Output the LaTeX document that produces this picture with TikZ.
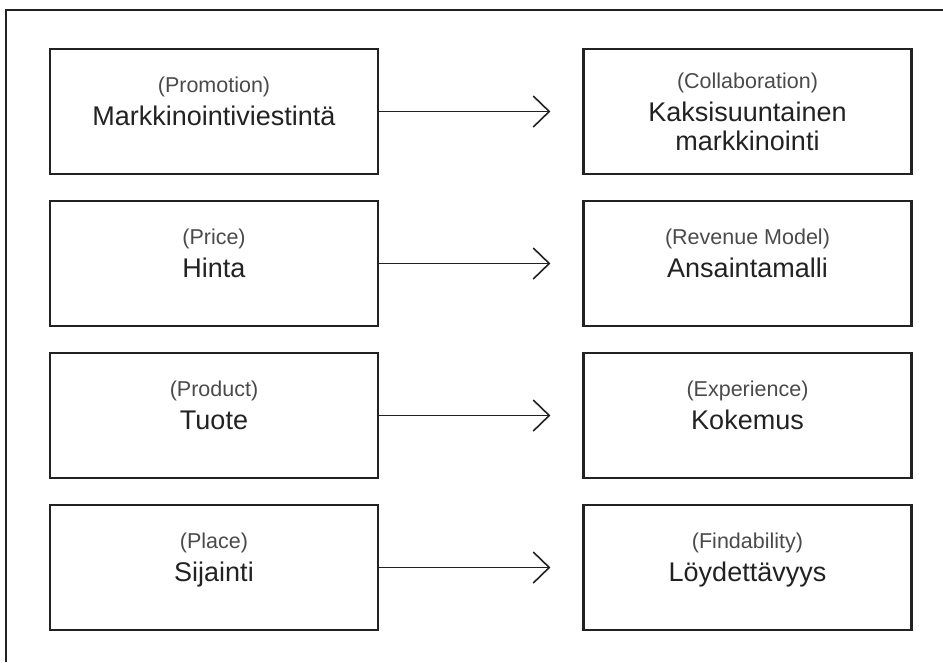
\documentclass[tikz,border=0pt]{standalone}
\usepackage{fontspec}
\setmainfont{Liberation Sans}
\usetikzlibrary{arrows.meta, positioning}
\definecolor{ink}{HTML}{222222}
\definecolor{subink}{HTML}{4A4A4A}
\newcommand{\eng}[1]{{\fontsize{21.5}{24}\selectfont\color{subink}#1}}

\begin{document}
\begin{tikzpicture}[x=1pt, y=-1pt, node distance = 152pt and 533.5pt, on grid,
   box/.style = {draw=ink, line width=2.2pt, minimum width=328pt, minimum height=125pt,
                 align=center, text=ink, font=\fontsize{27}{29}\selectfont},
   twoline/.style = {text depth=21pt},
   conn/.style = {-{Straight Barb[length=16pt, width=31pt]}, draw=ink, line width=1.6pt, shorten >=32pt}]
   \useasboundingbox (0,0) rectangle (943,662);
   \draw[ink, line width=2.2pt] (6,662) -- (6,10) -- (943,10);

   % vanha 4P-malli
   \node (promo)[box, twoline] at (214,111.5) {\eng{(Promotion)}\\[4pt]Markkinointiviestintä};
   \node (price)[box, twoline, below = of promo] {\eng{(Price)}\\[4pt]Hinta};
   \node (product)[box, twoline, below = of price] {\eng{(Product)}\\[4pt]Tuote};
   \node (place)[box, twoline, below = of product] {\eng{(Place)}\\[4pt]Sijainti};

   % uusi malli
   \node (collab)[box, right = of promo] {\eng{(Collaboration)}\\[4pt]Kaksisuuntainen\\markkinointi};
   \node (revenue)[box, twoline, right = of price] {\eng{(Revenue Model)}\\[4pt]Ansaintamalli};
   \node (exper)[box, twoline, right = of product] {\eng{(Experience)}\\[4pt]Kokemus};
   \node (find)[box, twoline, right = of place] {\eng{(Findability)}\\[4pt]Löydettävyys};

   \path[conn] (promo) edge (collab);
   \path[conn] (price) edge (revenue);
   \path[conn] (product) edge (exper);
   \path[conn] (place) edge (find);
\end{tikzpicture}
\end{document}
